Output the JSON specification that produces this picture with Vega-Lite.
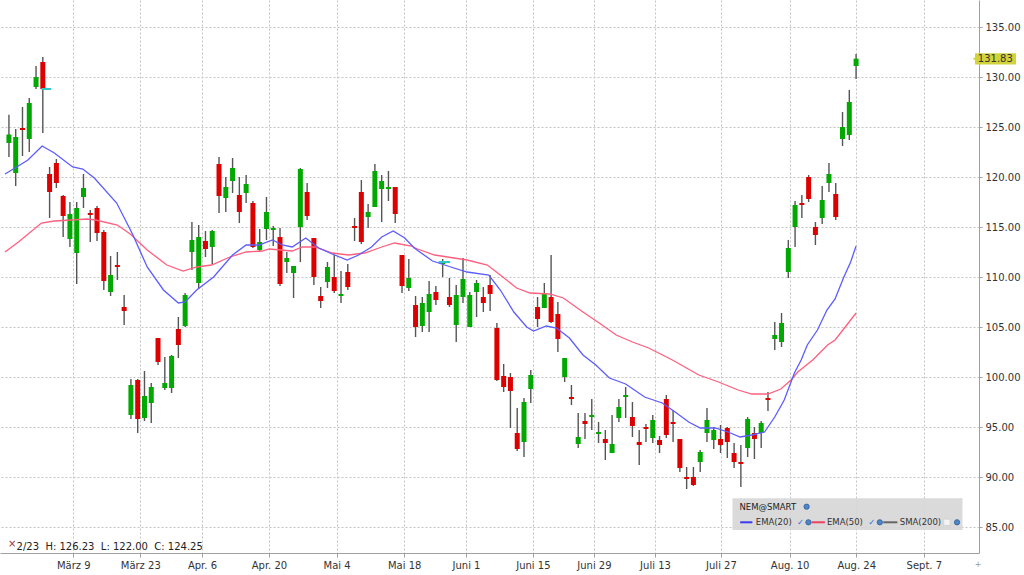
{
  "$schema": "https://vega.github.io/schema/vega-lite/v6.json",
  "width": 979,
  "height": 553,
  "autosize": {"type": "none"},
  "padding": {"left": 0, "top": 0, "right": 45, "bottom": 22},
  "background": "white",
  "config": {"view": {"stroke": null}, "font": "DejaVu Sans"},
  "datasets": {
    "candles": [
      {"i": 0, "o": 123.4, "h": 126.23, "l": 122.0, "c": 124.25},
      {"i": 1, "o": 120.4, "h": 124.8, "l": 119.1, "c": 124.0},
      {"i": 2, "o": 124.9, "h": 127.0, "l": 122.1, "c": 124.7},
      {"i": 3, "o": 123.8, "h": 127.9, "l": 122.5, "c": 127.4},
      {"i": 4, "o": 129.0, "h": 131.1, "l": 128.8, "c": 130.0},
      {"i": 5, "o": 131.5, "h": 132.0, "l": 124.4, "c": 128.8},
      {"i": 6, "o": 120.3, "h": 121.0, "l": 115.9, "c": 118.5},
      {"i": 7, "o": 121.4, "h": 121.8, "l": 118.9, "c": 119.4},
      {"i": 8, "o": 118.1, "h": 118.2, "l": 114.0, "c": 116.1},
      {"i": 9, "o": 113.8, "h": 117.5, "l": 113.0, "c": 116.3},
      {"i": 10, "o": 112.4, "h": 117.5, "l": 109.3, "c": 116.9},
      {"i": 11, "o": 118.0, "h": 120.3, "l": 116.9, "c": 118.9},
      {"i": 12, "o": 116.4, "h": 116.7, "l": 113.5, "c": 116.2},
      {"i": 13, "o": 116.9, "h": 117.1, "l": 113.6, "c": 114.4},
      {"i": 14, "o": 114.5, "h": 114.7, "l": 108.7, "c": 109.6},
      {"i": 15, "o": 108.5, "h": 112.1, "l": 108.1, "c": 110.2},
      {"i": 16, "o": 111.2, "h": 112.5, "l": 109.7, "c": 111.0},
      {"i": 17, "o": 107.0, "h": 108.2, "l": 105.2, "c": 106.6},
      {"i": 18, "o": 96.2, "h": 99.8, "l": 95.8, "c": 99.2},
      {"i": 19, "o": 99.7, "h": 99.8, "l": 94.4, "c": 95.8},
      {"i": 20, "o": 95.9, "h": 100.6, "l": 95.6, "c": 98.1},
      {"i": 21, "o": 97.4, "h": 99.4, "l": 95.4, "c": 99.0},
      {"i": 22, "o": 103.9, "h": 103.9, "l": 101.2, "c": 101.5},
      {"i": 23, "o": 98.9, "h": 102.0, "l": 98.7, "c": 99.4},
      {"i": 24, "o": 98.9, "h": 102.2, "l": 98.4, "c": 102.1},
      {"i": 25, "o": 104.8, "h": 106.0, "l": 101.9, "c": 103.2},
      {"i": 26, "o": 105.1, "h": 108.4, "l": 105.0, "c": 108.2},
      {"i": 27, "o": 112.5, "h": 115.5, "l": 110.7, "c": 113.7},
      {"i": 28, "o": 109.4, "h": 115.2, "l": 108.8, "c": 114.0},
      {"i": 29, "o": 113.6, "h": 114.6, "l": 112.0, "c": 112.8},
      {"i": 30, "o": 113.0, "h": 114.7, "l": 111.3, "c": 114.6},
      {"i": 31, "o": 121.3, "h": 122.0, "l": 116.4, "c": 118.1},
      {"i": 32, "o": 117.9, "h": 120.0, "l": 116.5, "c": 119.0},
      {"i": 33, "o": 119.6, "h": 121.9, "l": 118.4, "c": 120.9},
      {"i": 34, "o": 118.2, "h": 120.0, "l": 115.4, "c": 116.5},
      {"i": 35, "o": 118.4, "h": 120.2, "l": 117.4, "c": 119.3},
      {"i": 36, "o": 117.4, "h": 117.6, "l": 112.9, "c": 113.0},
      {"i": 37, "o": 112.7, "h": 114.8, "l": 112.5, "c": 113.5},
      {"i": 38, "o": 114.8, "h": 118.0, "l": 113.7, "c": 116.5},
      {"i": 39, "o": 114.7, "h": 115.1, "l": 113.1, "c": 114.9},
      {"i": 40, "o": 114.0, "h": 114.9, "l": 109.1, "c": 109.3},
      {"i": 41, "o": 111.5, "h": 112.5, "l": 110.4, "c": 111.9},
      {"i": 42, "o": 110.4, "h": 111.1, "l": 107.9, "c": 111.1},
      {"i": 43, "o": 115.0, "h": 120.9, "l": 111.5, "c": 120.8},
      {"i": 44, "o": 118.5, "h": 119.4, "l": 115.7, "c": 116.1},
      {"i": 45, "o": 113.9, "h": 113.9, "l": 109.2, "c": 110.0},
      {"i": 46, "o": 108.1, "h": 109.0, "l": 106.9, "c": 107.6},
      {"i": 47, "o": 109.5, "h": 111.5, "l": 108.9, "c": 111.0},
      {"i": 48, "o": 110.0, "h": 112.2, "l": 108.4, "c": 108.6},
      {"i": 49, "o": 108.1, "h": 110.6, "l": 107.4, "c": 108.3},
      {"i": 50, "o": 110.5, "h": 111.3, "l": 108.7, "c": 109.0},
      {"i": 51, "o": 115.1, "h": 115.9, "l": 113.6, "c": 114.9},
      {"i": 52, "o": 118.5, "h": 119.7, "l": 113.3, "c": 113.5},
      {"i": 53, "o": 116.0, "h": 117.3, "l": 114.9, "c": 116.5},
      {"i": 54, "o": 117.0, "h": 121.3, "l": 117.0, "c": 120.6},
      {"i": 55, "o": 118.8, "h": 120.2, "l": 115.5, "c": 119.6},
      {"i": 56, "o": 118.8, "h": 120.6, "l": 117.6, "c": 119.0},
      {"i": 57, "o": 119.0, "h": 119.0, "l": 115.4, "c": 116.3},
      {"i": 58, "o": 112.2, "h": 112.2, "l": 108.4, "c": 109.1},
      {"i": 59, "o": 108.9, "h": 111.8, "l": 108.6, "c": 109.9},
      {"i": 60, "o": 107.2, "h": 108.1, "l": 104.0, "c": 105.0},
      {"i": 61, "o": 105.1, "h": 108.0, "l": 104.5, "c": 107.4},
      {"i": 62, "o": 106.5, "h": 109.6, "l": 104.5, "c": 108.3},
      {"i": 63, "o": 108.5, "h": 109.1, "l": 107.2, "c": 107.7},
      {"i": 64, "o": 111.3, "h": 111.8, "l": 110.0, "c": 111.5},
      {"i": 65, "o": 108.0, "h": 109.9, "l": 107.0, "c": 107.2},
      {"i": 66, "o": 105.2, "h": 109.2, "l": 103.5, "c": 108.2},
      {"i": 67, "o": 108.0, "h": 111.9, "l": 107.4, "c": 109.8},
      {"i": 68, "o": 105.0, "h": 108.5, "l": 105.0, "c": 108.2},
      {"i": 69, "o": 108.5, "h": 109.7, "l": 106.0, "c": 109.4},
      {"i": 70, "o": 108.0, "h": 109.0, "l": 106.5, "c": 107.4},
      {"i": 71, "o": 109.2, "h": 110.2, "l": 106.6, "c": 108.3},
      {"i": 72, "o": 104.9, "h": 105.4, "l": 99.6, "c": 99.7},
      {"i": 73, "o": 100.1, "h": 101.3, "l": 98.5, "c": 99.0},
      {"i": 74, "o": 100.0, "h": 100.4, "l": 94.9, "c": 98.6},
      {"i": 75, "o": 94.4, "h": 96.9, "l": 92.6, "c": 92.8},
      {"i": 76, "o": 93.5, "h": 97.9, "l": 92.0, "c": 97.5},
      {"i": 77, "o": 98.8, "h": 100.7, "l": 97.4, "c": 100.2},
      {"i": 78, "o": 107.0, "h": 108.0, "l": 105.0, "c": 105.8},
      {"i": 79, "o": 106.9, "h": 109.4, "l": 106.9, "c": 108.4},
      {"i": 80, "o": 108.0, "h": 112.2, "l": 105.4, "c": 105.5},
      {"i": 81, "o": 106.3, "h": 107.5, "l": 102.5, "c": 103.8},
      {"i": 82, "o": 100.0, "h": 101.9, "l": 99.5, "c": 101.9},
      {"i": 83, "o": 98.0, "h": 99.2, "l": 97.2, "c": 97.8},
      {"i": 84, "o": 93.3, "h": 96.4, "l": 92.9, "c": 94.0},
      {"i": 85, "o": 95.6, "h": 96.4, "l": 93.8, "c": 95.3},
      {"i": 86, "o": 96.0, "h": 97.8, "l": 94.7, "c": 96.2},
      {"i": 87, "o": 94.3, "h": 95.5, "l": 93.4, "c": 94.5},
      {"i": 88, "o": 93.8, "h": 94.7, "l": 91.7, "c": 93.4},
      {"i": 89, "o": 92.4, "h": 96.2, "l": 92.4, "c": 93.3},
      {"i": 90, "o": 95.9, "h": 97.8, "l": 95.5, "c": 97.0},
      {"i": 91, "o": 98.0, "h": 99.0, "l": 95.9, "c": 98.2},
      {"i": 92, "o": 96.0, "h": 97.5, "l": 94.0, "c": 95.1},
      {"i": 93, "o": 93.5, "h": 94.7, "l": 91.2, "c": 93.2},
      {"i": 94, "o": 95.0, "h": 95.3, "l": 93.5, "c": 94.8},
      {"i": 95, "o": 93.9, "h": 96.2, "l": 93.4, "c": 95.7},
      {"i": 96, "o": 93.7, "h": 94.1, "l": 92.4, "c": 93.2},
      {"i": 97, "o": 97.8, "h": 98.2, "l": 93.9, "c": 94.2},
      {"i": 98, "o": 95.5, "h": 96.7, "l": 93.5, "c": 95.3},
      {"i": 99, "o": 93.8, "h": 93.8, "l": 90.5, "c": 90.9},
      {"i": 100, "o": 90.0, "h": 91.0, "l": 88.8, "c": 89.8},
      {"i": 101, "o": 90.0, "h": 91.0, "l": 89.1, "c": 89.2},
      {"i": 102, "o": 91.5, "h": 92.7, "l": 90.5, "c": 92.5},
      {"i": 103, "o": 94.4, "h": 96.9, "l": 93.5, "c": 95.7},
      {"i": 104, "o": 93.7, "h": 95.0, "l": 92.8, "c": 94.7},
      {"i": 105, "o": 93.8, "h": 95.2, "l": 92.4, "c": 93.2},
      {"i": 106, "o": 94.9, "h": 95.0, "l": 91.9, "c": 93.5},
      {"i": 107, "o": 92.4, "h": 93.4, "l": 90.9, "c": 91.5},
      {"i": 108, "o": 91.5, "h": 93.2, "l": 89.0, "c": 91.3},
      {"i": 109, "o": 92.9, "h": 96.0, "l": 92.0, "c": 95.8},
      {"i": 110, "o": 94.4, "h": 95.0, "l": 91.8, "c": 93.8},
      {"i": 111, "o": 94.4, "h": 95.6, "l": 92.9, "c": 95.4},
      {"i": 112, "o": 97.9, "h": 98.5, "l": 96.6, "c": 97.7},
      {"i": 113, "o": 103.8, "h": 105.5, "l": 102.7, "c": 104.2},
      {"i": 114, "o": 103.5, "h": 106.4, "l": 103.0, "c": 105.4},
      {"i": 115, "o": 110.5, "h": 113.7, "l": 109.9, "c": 112.9},
      {"i": 116, "o": 115.0, "h": 117.6, "l": 113.0, "c": 117.2},
      {"i": 117, "o": 117.4, "h": 118.2, "l": 115.9, "c": 117.2},
      {"i": 118, "o": 120.0, "h": 120.2, "l": 117.5, "c": 117.8},
      {"i": 119, "o": 115.0, "h": 115.5, "l": 113.2, "c": 114.2},
      {"i": 120, "o": 115.9, "h": 119.1, "l": 115.3, "c": 117.7},
      {"i": 121, "o": 119.4, "h": 121.4, "l": 118.5, "c": 120.3},
      {"i": 122, "o": 118.3, "h": 119.4, "l": 115.7, "c": 116.0},
      {"i": 123, "o": 123.8, "h": 126.5, "l": 123.1, "c": 125.0},
      {"i": 124, "o": 124.2, "h": 128.7, "l": 123.7, "c": 127.5},
      {"i": 125, "o": 131.1, "h": 132.3, "l": 129.8, "c": 131.83}
    ],
    "ema20": [
      {"i": -0.58, "p": 120.3}, {"i": 0.9, "p": 120.9}, {"i": 2.8, "p": 121.7},
      {"i": 4.9, "p": 123.1}, {"i": 6.7, "p": 122.4}, {"i": 9.4, "p": 121.0},
      {"i": 10.9, "p": 120.8}, {"i": 12.6, "p": 119.9}, {"i": 15.9, "p": 117.4},
      {"i": 18.3, "p": 114.2}, {"i": 20.4, "p": 111.0}, {"i": 22.8, "p": 108.7},
      {"i": 25.0, "p": 107.4}, {"i": 26.0, "p": 107.5}, {"i": 27.7, "p": 108.7},
      {"i": 30.2, "p": 110.0}, {"i": 33.0, "p": 112.2}, {"i": 35.0, "p": 113.2},
      {"i": 36.9, "p": 113.2}, {"i": 38.9, "p": 113.7}, {"i": 40.3, "p": 113.2},
      {"i": 41.8, "p": 113.0}, {"i": 43.8, "p": 113.9}, {"i": 45.7, "p": 112.9},
      {"i": 47.7, "p": 112.3}, {"i": 49.9, "p": 111.7}, {"i": 51.6, "p": 112.2},
      {"i": 53.5, "p": 113.0}, {"i": 55.0, "p": 114.0}, {"i": 56.7, "p": 114.6},
      {"i": 58.4, "p": 113.9}, {"i": 59.8, "p": 112.9}, {"i": 62.5, "p": 111.6},
      {"i": 65.2, "p": 111.0}, {"i": 67.6, "p": 110.5}, {"i": 70.8, "p": 110.2},
      {"i": 72.5, "p": 108.7}, {"i": 74.5, "p": 106.5}, {"i": 76.4, "p": 105.0},
      {"i": 77.4, "p": 104.6}, {"i": 79.3, "p": 105.1}, {"i": 80.8, "p": 104.9},
      {"i": 82.7, "p": 103.9}, {"i": 84.7, "p": 102.2}, {"i": 86.6, "p": 101.2},
      {"i": 88.6, "p": 99.9}, {"i": 91.0, "p": 99.3}, {"i": 93.8, "p": 98.0},
      {"i": 96.4, "p": 97.4}, {"i": 98.3, "p": 96.5}, {"i": 100.3, "p": 95.5},
      {"i": 102.0, "p": 94.9}, {"i": 104.2, "p": 94.9}, {"i": 106.1, "p": 94.5},
      {"i": 107.9, "p": 94.0}, {"i": 109.6, "p": 94.2}, {"i": 111.5, "p": 94.5},
      {"i": 113.0, "p": 96.0}, {"i": 114.4, "p": 97.7}, {"i": 115.9, "p": 100.4},
      {"i": 116.9, "p": 101.7}, {"i": 117.8, "p": 103.2}, {"i": 119.3, "p": 104.7},
      {"i": 120.7, "p": 106.7}, {"i": 121.9, "p": 107.8}, {"i": 123.2, "p": 110.0},
      {"i": 124.2, "p": 111.5}, {"i": 125.0, "p": 113.1}
    ],
    "ema50": [
      {"i": -0.58, "p": 112.5}, {"i": 1.4, "p": 113.5}, {"i": 4.8, "p": 115.4},
      {"i": 6.7, "p": 115.6}, {"i": 9.2, "p": 115.7}, {"i": 11.6, "p": 115.8},
      {"i": 12.8, "p": 115.7}, {"i": 16.0, "p": 115.2}, {"i": 17.9, "p": 114.3},
      {"i": 20.4, "p": 112.7}, {"i": 23.3, "p": 111.2}, {"i": 25.7, "p": 110.6},
      {"i": 27.7, "p": 111.0}, {"i": 29.9, "p": 111.2}, {"i": 32.6, "p": 112.0},
      {"i": 35.0, "p": 112.5}, {"i": 37.4, "p": 112.6}, {"i": 38.4, "p": 112.8},
      {"i": 41.8, "p": 112.6}, {"i": 43.3, "p": 113.0}, {"i": 45.2, "p": 113.0},
      {"i": 47.7, "p": 112.4}, {"i": 50.1, "p": 112.2}, {"i": 52.5, "p": 112.4},
      {"i": 55.0, "p": 113.0}, {"i": 56.9, "p": 113.4}, {"i": 59.4, "p": 113.1},
      {"i": 60.3, "p": 112.8}, {"i": 62.8, "p": 112.2}, {"i": 67.6, "p": 111.7},
      {"i": 70.6, "p": 111.2}, {"i": 72.5, "p": 110.2}, {"i": 74.9, "p": 108.9},
      {"i": 76.9, "p": 108.4}, {"i": 79.8, "p": 108.3}, {"i": 81.8, "p": 107.9},
      {"i": 84.7, "p": 106.5}, {"i": 87.1, "p": 105.4}, {"i": 89.6, "p": 104.2},
      {"i": 92.0, "p": 103.5}, {"i": 94.4, "p": 102.9}, {"i": 97.9, "p": 101.7},
      {"i": 101.8, "p": 100.2}, {"i": 104.7, "p": 99.5}, {"i": 107.6, "p": 98.7},
      {"i": 109.6, "p": 98.3}, {"i": 112.0, "p": 98.3}, {"i": 113.9, "p": 98.8},
      {"i": 115.4, "p": 99.7}, {"i": 116.4, "p": 100.5}, {"i": 118.6, "p": 101.7},
      {"i": 120.8, "p": 103.2}, {"i": 121.9, "p": 103.7}, {"i": 123.4, "p": 105.0},
      {"i": 125.0, "p": 106.4}
    ],
    "markers": [
      {"i": 4.78, "i2": 6.24, "p": 128.8},
      {"i": 63.4, "i2": 65.1, "p": 111.5}
    ],
    "legendBox": [{"i": 106.77, "i2": 140.7, "p": 87.87, "p2": 84.7}],
    "legendLines": [
      {"i": 107.9, "i2": 109.7, "p": 85.47, "col": "#3a3af0"},
      {"i": 118.45, "i2": 120.4, "p": 85.47, "col": "#f04060"},
      {"i": 129.0, "i2": 131.1, "p": 85.47, "col": "#666666"}
    ],
    "legendText": [
      {"i": 107.8, "p": 87.0, "t": "NEM@SMART", "w": "bold", "col": "#222222"},
      {"i": 110.2, "p": 85.47, "t": "EMA(20)", "w": "normal", "col": "#333333"},
      {"i": 120.7, "p": 85.47, "t": "EMA(50)", "w": "normal", "col": "#333333"},
      {"i": 131.45, "p": 85.47, "t": "SMA(200)", "w": "normal", "col": "#333333"},
      {"i": 116.3, "p": 85.47, "t": "✓", "w": "bold", "col": "#3a6fd8"},
      {"i": 126.8, "p": 85.47, "t": "✓", "w": "bold", "col": "#3a6fd8"}
    ],
    "globes": [
      {"i": 117.7, "p": 87.03},
      {"i": 117.97, "p": 85.47},
      {"i": 128.5, "p": 85.47},
      {"i": 139.9, "p": 85.47}
    ],
    "checkbox": [{"i": 138.4, "p": 85.47}],
    "info": [
      {"i": -0.15, "p": 83.3, "t": "×", "col": "#a03030", "s": 10},
      {"i": 1.13, "p": 83.03, "t": "2/23\u00a0\u00a0H:\u00a0126.23\u00a0\u00a0L:\u00a0122.00\u00a0\u00a0C:\u00a0124.25", "col": "#222222", "s": 10},
      {"i": 142.5, "p": 81.2, "t": "+", "col": "#999999", "s": 8}
    ],
    "lastPrice": [{"i": 142.55, "i2": 148.6, "p": 132.37, "p2": 131.25, "pm": 131.83, "im": 145.55, "t": "131.83"}]
  },
  "layer": [
    {
      "data": {"name": "candles"},
      "mark": {"type": "rule", "color": "#555555", "strokeWidth": 1.4},
      "encoding": {
        "x": {
          "field": "i", "type": "quantitative", "title": null,
          "scale": {"domain": [-0.58, 142.4], "nice": false, "zero": false},
          "axis": {
            "title": null,
            "values": [9.5, 19.38, 28.48, 38.37, 48.35, 58.32, 67.44, 77.31, 86.32, 95.33, 105.06, 115.19, 125.02, 134.99],
            "labelExpr": "['März 9','März 23','Apr. 6','Apr. 20','Mai 4','Mai 18','Juni 1','Juni 15','Juni 29','Juli 13','Juli 27','Aug. 10','Aug. 24','Sept. 7'][indexof([9.5, 19.38, 28.48, 38.37, 48.35, 58.32, 67.44, 77.31, 86.32, 95.33, 105.06, 115.19, 125.02, 134.99], datum.value)]",
            "grid": true, "gridColor": "#c4c4c4", "gridDash": [2, 2],
            "domainColor": "#a0a0a0", "tickColor": "#a0a0a0", "tickSize": 4,
            "labelFontSize": 10, "labelColor": "#333333", "labelPadding": 3,
            "labelFont": "DejaVu Sans", "labelFlush": false
          }
        },
        "y": {
          "field": "l", "type": "quantitative", "title": null,
          "scale": {"domain": [82.4, 137.7], "nice": false, "zero": false},
          "axis": {
            "title": null, "orient": "right",
            "values": [85, 87.5, 90, 92.5, 95, 97.5, 100, 102.5, 105, 107.5, 110, 112.5, 115, 117.5, 120, 122.5, 125, 127.5, 130, 132.5, 135],
            "format": ".2f",
            "grid": true, "gridColor": "#c4c4c4", "gridDash": [2, 2],
            "domainColor": "#a0a0a0", "tickColor": "#a0a0a0", "tickSize": 3,
            "labelFontSize": 10, "labelColor": "#333333", "labelPadding": 3,
            "labelFont": "DejaVu Sans"
          }
        },
        "y2": {"field": "h"}
      }
    },
    {
      "data": {"name": "candles"},
      "mark": {"type": "bar", "size": 5},
      "encoding": {
        "x": {"field": "i", "type": "quantitative", "title": null},
        "y": {"field": "o", "type": "quantitative", "title": null},
        "y2": {"field": "c"},
        "color": {
          "condition": {"test": "datum.c >= datum.o", "value": "#00a800"},
          "value": "#dd0000"
        }
      }
    },
    {
      "data": {"name": "markers"},
      "mark": {"type": "rule", "color": "#30c8c8", "strokeWidth": 2},
      "encoding": {
        "x": {"field": "i", "type": "quantitative", "title": null},
        "x2": {"field": "i2"},
        "y": {"field": "p", "type": "quantitative", "title": null}
      }
    },
    {
      "data": {"name": "ema50"},
      "mark": {"type": "line", "color": "#ff5f7e", "strokeWidth": 1.3},
      "encoding": {
        "x": {"field": "i", "type": "quantitative", "title": null},
        "y": {"field": "p", "type": "quantitative", "title": null}
      }
    },
    {
      "data": {"name": "ema20"},
      "mark": {"type": "line", "color": "#5c5cff", "strokeWidth": 1.3},
      "encoding": {
        "x": {"field": "i", "type": "quantitative", "title": null},
        "y": {"field": "p", "type": "quantitative", "title": null}
      }
    },
    {
      "data": {"name": "legendBox"},
      "mark": {"type": "rect", "color": "#d6d6d6", "opacity": 0.9},
      "encoding": {
        "x": {"field": "i", "type": "quantitative", "title": null},
        "x2": {"field": "i2"},
        "y": {"field": "p", "type": "quantitative", "title": null},
        "y2": {"field": "p2"}
      }
    },
    {
      "data": {"name": "legendLines"},
      "mark": {"type": "rule", "strokeWidth": 2},
      "encoding": {
        "x": {"field": "i", "type": "quantitative", "title": null},
        "x2": {"field": "i2"},
        "y": {"field": "p", "type": "quantitative", "title": null},
        "color": {"field": "col", "type": "nominal", "scale": null}
      }
    },
    {
      "data": {"name": "legendText"},
      "mark": {"type": "text", "align": "left", "baseline": "middle", "fontSize": 8.5, "font": "DejaVu Sans"},
      "encoding": {
        "x": {"field": "i", "type": "quantitative", "title": null},
        "y": {"field": "p", "type": "quantitative", "title": null},
        "text": {"field": "t"},
        "fontWeight": {"field": "w", "type": "nominal", "scale": null},
        "color": {"field": "col", "type": "nominal", "scale": null}
      }
    },
    {
      "data": {"name": "globes"},
      "mark": {"type": "point", "shape": "circle", "filled": true, "size": 28, "color": "#4f86c6", "stroke": "#2b5a99", "strokeWidth": 0.8, "opacity": 1},
      "encoding": {
        "x": {"field": "i", "type": "quantitative", "title": null},
        "y": {"field": "p", "type": "quantitative", "title": null}
      }
    },
    {
      "data": {"name": "checkbox"},
      "mark": {"type": "point", "shape": "square", "filled": true, "size": 40, "color": "#f4f4f4", "stroke": "#d0d0d0", "strokeWidth": 0.8, "opacity": 1},
      "encoding": {
        "x": {"field": "i", "type": "quantitative", "title": null},
        "y": {"field": "p", "type": "quantitative", "title": null}
      }
    },
    {
      "data": {"name": "info"},
      "mark": {"type": "text", "align": "left", "baseline": "middle", "font": "DejaVu Sans"},
      "encoding": {
        "x": {"field": "i", "type": "quantitative", "title": null},
        "y": {"field": "p", "type": "quantitative", "title": null},
        "text": {"field": "t"},
        "size": {"field": "s", "type": "quantitative", "scale": null},
        "color": {"field": "col", "type": "nominal", "scale": null}
      }
    },
    {
      "data": {"name": "lastPrice"},
      "mark": {"type": "rect", "color": "#d2d23a"},
      "encoding": {
        "x": {"field": "i", "type": "quantitative", "title": null},
        "x2": {"field": "i2"},
        "y": {"field": "p", "type": "quantitative", "title": null},
        "y2": {"field": "p2"}
      }
    },
    {
      "data": {"name": "lastPrice"},
      "mark": {"type": "point", "shape": "triangle-left", "filled": true, "size": 30, "color": "#d2d23a", "opacity": 1},
      "encoding": {
        "x": {"field": "i", "type": "quantitative", "title": null},
        "y": {"field": "pm", "type": "quantitative", "title": null}
      }
    },
    {
      "data": {"name": "lastPrice"},
      "mark": {"type": "text", "align": "center", "baseline": "middle", "fontSize": 10, "font": "DejaVu Sans", "color": "#333333"},
      "encoding": {
        "x": {"field": "im", "type": "quantitative", "title": null},
        "y": {"field": "pm", "type": "quantitative", "title": null},
        "text": {"field": "t"}
      }
    }
  ]
}
